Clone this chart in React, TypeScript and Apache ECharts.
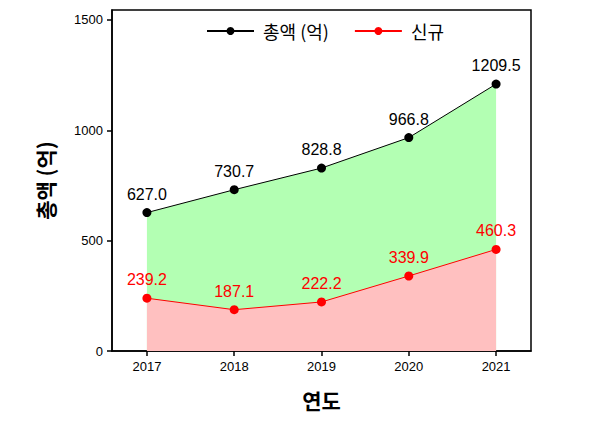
import React, { useEffect, useRef } from "react";
import * as echarts from "echarts";

const years = [2017, 2018, 2019, 2020, 2021];
const totalValues = [627.0, 730.7, 828.8, 966.8, 1209.5];
const newValues = [239.2, 187.1, 222.2, 339.9, 460.3];
const yTicks = [0, 500, 1000, 1500];

const KR = '"Noto Sans CJK KR", "Liberation Sans", Arial, sans-serif';
const NUM = '"Liberation Sans", Arial, sans-serif';

export default function App() {
  const ref = useRef<HTMLDivElement>(null);
  useEffect(() => {
    if (!ref.current) return;
    const chart = echarts.init(ref.current, null, { renderer: "svg" });
    chart.setOption({
      animation: false,
      backgroundColor: "#ffffff",
      grid: {
        left: 112,
        right: 84,
        top: 10,
        bottom: 84,
        show: true,
        borderColor: "#000",
        borderWidth: 1.5,
        backgroundColor: "transparent",
      },
      legend: {
        top: 17,
        left: 201,
        itemWidth: 47,
        itemHeight: 10,
        itemGap: 25,
        textStyle: { fontFamily: KR, fontSize: 18, color: "#000", padding: [0, 0, 0, 4] },
        data: ["총액 (억)", "신규"],
      },
      xAxis: {
        type: "value",
        min: 2016.6,
        max: 2021.4,
        interval: 1,
        name: "연도",
        nameLocation: "middle",
        nameGap: 38,
        nameTextStyle: { fontFamily: KR, fontSize: 21, fontWeight: "bold", color: "#000" },
        splitLine: { show: false },
        axisLine: { lineStyle: { color: "#000", width: 1.5 } },
        axisTick: { show: true, length: 5, lineStyle: { color: "#000", width: 1.5 }, customValues: years },
        axisLabel: {
          fontFamily: NUM,
          fontSize: 13,
          color: "#000",
          margin: 9,
          customValues: years,
          formatter: (v: number) => String(v),
        },
      },
      yAxis: {
        type: "value",
        min: 0,
        max: 1545,
        name: "총액 (억)",
        nameLocation: "middle",
        nameGap: 57,
        nameTextStyle: { fontFamily: KR, fontSize: 21, fontWeight: "bold", color: "#000" },
        splitLine: { show: false },
        axisLine: { show: true, lineStyle: { color: "#000", width: 1.5 } },
        axisTick: { show: true, length: 5, lineStyle: { color: "#000", width: 1.5 }, customValues: yTicks },
        axisLabel: {
          fontFamily: NUM,
          fontSize: 13,
          color: "#000",
          margin: 9,
          customValues: yTicks,
          formatter: (v: number) => String(v),
        },
      },
      series: [
        {
          name: "총액 (억)",
          type: "line",
          data: years.map((y, i) => [y, totalValues[i]]),
          color: "#000",
          symbol: "circle",
          symbolSize: 9,
          lineStyle: { color: "#000", width: 1 },
          itemStyle: { color: "#000" },
          areaStyle: { color: "#b3ffb3", opacity: 1 },
          label: {
            show: true,
            position: "top",
            distance: 6,
            fontFamily: NUM,
            fontSize: 16,
            color: "#000",
            formatter: (p: any) => p.value[1].toFixed(1),
          },
          z: 2,
        },
        {
          name: "신규",
          type: "line",
          data: years.map((y, i) => [y, newValues[i]]),
          color: "#ff0000",
          symbol: "circle",
          symbolSize: 9,
          lineStyle: { color: "#ff0000", width: 1 },
          itemStyle: { color: "#ff0000" },
          areaStyle: { color: "#ffc0c0", opacity: 1 },
          label: {
            show: true,
            position: "top",
            distance: 6,
            fontFamily: NUM,
            fontSize: 16,
            color: "#ff0000",
            formatter: (p: any) => p.value[1].toFixed(1),
          },
          z: 3,
        },
      ],
    });
    return () => chart.dispose();
  }, []);
  return (
    <div
      ref={ref}
      style={{ position: "fixed", left: 0, top: 0, width: 615, height: 435 }}
    />
  );
}
